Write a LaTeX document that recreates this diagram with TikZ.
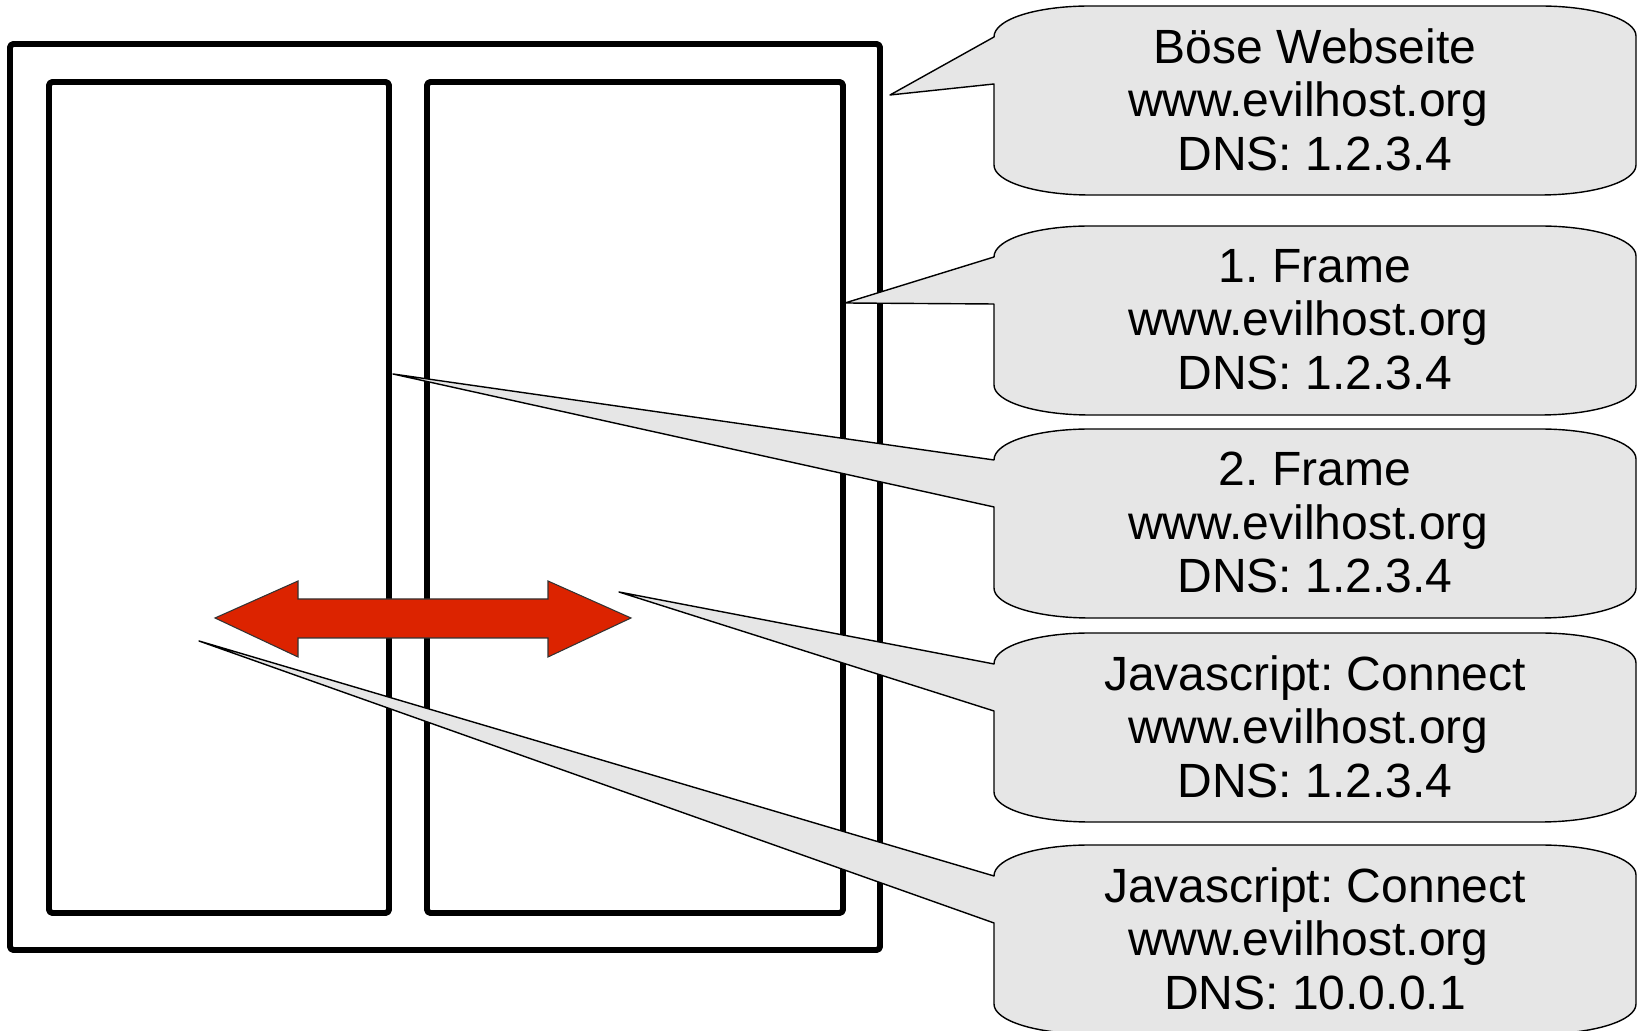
\documentclass[tikz,border=0pt]{standalone}
\usepackage{fontspec}
\setmainfont{Liberation Sans}
\usepackage{xcolor}
\usepackage{tikz}
\usetikzlibrary{positioning,calc}
\frenchspacing

\definecolor{bubgray}{HTML}{E6E6E6}
\definecolor{arrred}{RGB}{220,35,0}

% speech bubble, drawn in a scope shifted to its top edge; #1 = tip
\newcommand{\bubble}[1]{%
  \draw[bub] (994,31) -- (#1) -- (994,78) -- (994,159)
    .. controls (994,176) and (1037,189) .. (1090,189) -- (1540,189)
    .. controls (1593,189) and (1636,176) .. (1636,159) -- (1636,30)
    .. controls (1636,13) and (1593,0) .. (1540,0) -- (1090,0)
    .. controls (1037,0) and (994,13) .. (994,31) -- cycle;}
% host line (carries a trailing blank in the original)
\newcommand{\evilhost}{www.evilhost.org\rule{0.28em}{0pt}}

\begin{document}
\begin{tikzpicture}[
  x=0.01cm,y=-0.01cm,
  frm/.style={line width=1.7pt,rounded corners=1pt,line join=round},
  bub/.style={fill=bubgray,draw=black,line width=0.4pt,line join=round},
  arr/.style={fill=arrred,draw=black!80,line width=0.3pt},
  txt/.style={font=\fontsize{13.66pt}{15.2pt}\selectfont,align=center,inner sep=0pt}
]
\useasboundingbox (0,0) rectangle (1641,1031);

% browser window with two frames
\draw[frm] (10,44) rectangle (880,950);
\draw[frm] (49,82) rectangle (389,913);
\draw[frm] (427,82) rectangle (843,913);

% communication between the frames
\draw[arr] (215,618) -- (298,581) -- (298,599) -- (548,599) -- (548,581)
  -- (631,618) -- (548,657) -- (548,638) -- (298,638) -- (298,657) -- cycle;

% what the bubbles point at
\coordinate (page) at (890,95);
\coordinate (frameA) at (845,303);
\coordinate (frameB) at (393,374);
\coordinate (jsA) at (619,592);
\coordinate (jsB) at (199,641);

\begin{scope}[shift={(0,6)}]
  \bubble{page}
  \node[txt] (evil) at (1315,93.5) {Böse Webseite\\\evilhost\\DNS: 1.2.3.4};
\end{scope}
\begin{scope}[shift={(0,226)}]
  \bubble{frameA}
  \node[txt] (first) at (1315,93.5) {1. Frame\\\evilhost\\DNS: 1.2.3.4};
\end{scope}
\begin{scope}[shift={(0,429)}]
  \bubble{frameB}
  \node[txt] (second) at (1315,93.5) {2. Frame\\\evilhost\\DNS: 1.2.3.4};
\end{scope}
\begin{scope}[shift={(0,633)}]
  \bubble{jsA}
  \node[txt] (conA) at (1315,93.5) {Javascript: Connect\\\evilhost\\DNS: 1.2.3.4};
\end{scope}
\begin{scope}[shift={(0,845)}]
  \bubble{jsB}
  \node[txt] (conB) at (1315,93.5) {Javascript: Connect\\\evilhost\\DNS: 10.0.0.1};
\end{scope}
\end{tikzpicture}
\end{document}
